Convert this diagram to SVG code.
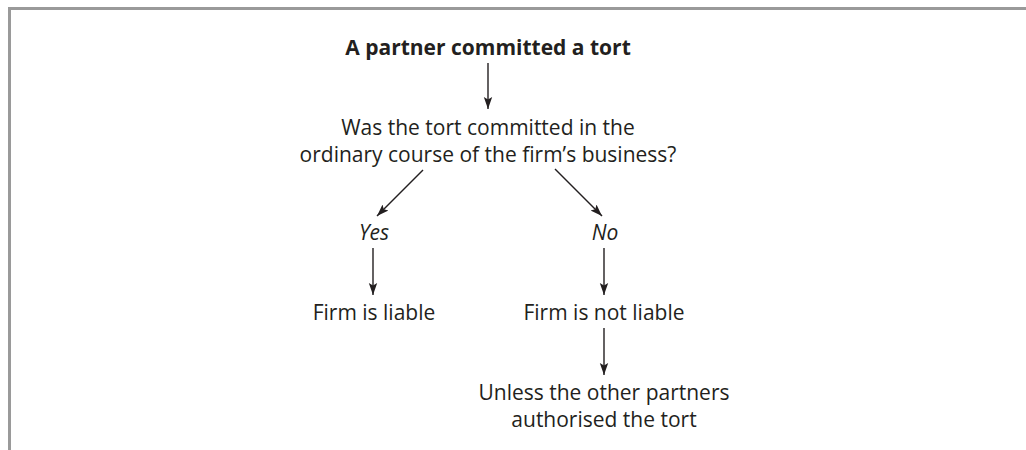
<svg xmlns="http://www.w3.org/2000/svg" width="1026" height="450" viewBox="0 0 1026 450">
<style>
.t{font-family:"Open Sans","Noto Sans",sans-serif;font-size:21px;fill:#231f20;text-anchor:middle}
.b{font-weight:bold}
.i{font-style:italic}
.c{stroke:#231f20;stroke-width:1.4;fill:none}
</style>
<defs>
<marker id="ah" viewBox="0 0 12 10" refX="12" refY="5" markerWidth="12" markerHeight="10" markerUnits="userSpaceOnUse" orient="auto">
<path d="M0,0.8 L12,5 L0,9.2 L2.5,5 Z" fill="#231f20"/>
</marker>
</defs>
<rect width="1026" height="450" fill="#ffffff"/>
<g id="frame">
<path d="M9.5,450 V8.5 H1026" stroke="#9a9a9a" stroke-width="3" fill="none"/>
</g>
<g id="connectors">
<line class="c" x1="488" y1="63" x2="488" y2="109" marker-end="url(#ah)"/>
<line class="c" x1="423" y1="170" x2="377" y2="216" marker-end="url(#ah)"/>
<line class="c" x1="555" y1="169" x2="602" y2="216" marker-end="url(#ah)"/>
<line class="c" x1="373" y1="248" x2="373" y2="295" marker-end="url(#ah)"/>
<line class="c" x1="604" y1="248" x2="604" y2="295" marker-end="url(#ah)"/>
<line class="c" x1="604" y1="328" x2="604" y2="375" marker-end="url(#ah)"/>
</g>
<g id="start"><text class="t b" x="488" y="55">A partner committed a tort</text></g>
<g id="question">
<text class="t" x="488" y="135">Was the tort committed in the</text>
<text class="t" x="488" y="162">ordinary course of the firm’s business?</text>
</g>
<g id="yes"><text class="t i" x="374" y="240">Yes</text></g>
<g id="no"><text class="t i" x="605" y="240">No</text></g>
<g id="liable"><text class="t" x="374" y="320">Firm is liable</text></g>
<g id="notliable"><text class="t" x="604" y="320">Firm is not liable</text></g>
<g id="unless">
<text class="t" x="604" y="400">Unless the other partners</text>
<text class="t" x="604" y="427">authorised the tort</text>
</g>
</svg>
